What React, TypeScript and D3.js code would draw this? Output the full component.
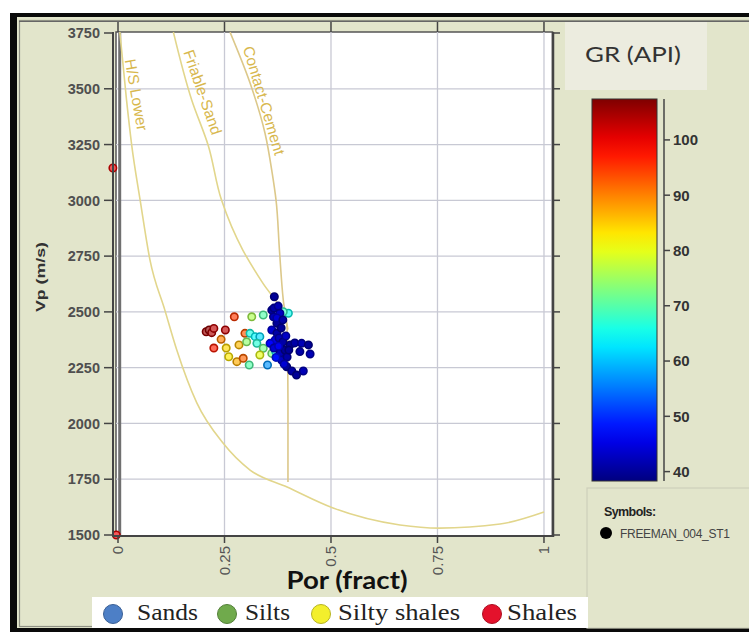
import React from "react";
import * as d3 from "d3";

// axis ticks
const porTicks = [0, 0.25, 0.5, 0.75, 1];
const porTickLabels = ["0", "0.25", "0.5", "0.75", "1"];
const vpTicks = [1500, 1750, 2000, 2250, 2500, 2750, 3000, 3250, 3500, 3750];
const grTicks = [40, 50, 60, 70, 80, 90, 100];

// rock physics templates [por, vp]
const hsLower: [number, number][] = [
  [0.004, 3760], [0.02, 3450], [0.032, 3250], [0.052, 3001], [0.075, 2733],
  [0.11, 2508], [0.138, 2329], [0.185, 2092], [0.246, 1913], [0.31, 1791],
  [0.397, 1715], [0.505, 1621], [0.662, 1545], [0.754, 1531], [0.897, 1549],
  [1.0, 1603],
];
const friableSand: [number, number][] = [
  [0.13, 3754], [0.173, 3450], [0.212, 3245], [0.243, 3001], [0.293, 2777],
  [0.34, 2629], [0.39, 2490], [0.399, 2420],
];
const contactCement: [number, number][] = [
  [0.263, 3754], [0.31, 3526], [0.345, 3302], [0.362, 3122], [0.371, 3001],
  [0.379, 2777], [0.388, 2553], [0.397, 2419], [0.399, 2105], [0.399, 1738],
];
const curveNames = ["H/S Lower", "Friable-Sand", "Contact-Cement"];
const curveLabelAt: [number, number][] = [[0.016, 3629], [0.153, 3665], [0.293, 3683]];

// well samples [por, vp, GR]
const samples: [number, number, number][] = [
  [0.207, 2411, 105], [0.214, 2419, 106], [0.22, 2407, 104], [0.225, 2426, 103],
  [0.252, 2419, 103], [0.273, 2478, 95], [0.242, 2377, 90], [0.225, 2338, 97],
  [0.254, 2338, 84], [0.26, 2299, 83], [0.279, 2277, 87], [0.294, 2292, 92],
  [0.308, 2262, 70], [0.284, 2352, 86], [0.298, 2404, 93], [0.302, 2366, 74],
  [0.31, 2404, 66], [0.322, 2389, 64], [0.333, 2389, 62], [0.326, 2359, 67],
  [0.341, 2337, 72], [0.333, 2307, 80], [0.351, 2262, 57], [0.361, 2314, 73],
  [0.37, 2322, 65], [0.314, 2478, 76], [0.341, 2486, 70], [0.4, 2494, 65],
  [0.388, 2501, 68],
  [0.367, 2568, 40], [0.361, 2508, 41], [0.365, 2478, 42], [0.373, 2449, 40],
  [0.38, 2494, 43], [0.366, 2517, 41], [0.376, 2526, 42], [0.361, 2419, 44],
  [0.373, 2405, 41], [0.383, 2428, 40], [0.369, 2374, 45], [0.378, 2383, 42],
  [0.387, 2365, 41], [0.357, 2359, 47], [0.366, 2338, 44], [0.38, 2314, 42],
  [0.392, 2329, 40], [0.384, 2284, 43], [0.397, 2298, 41], [0.404, 2352, 40],
  [0.415, 2361, 41], [0.431, 2359, 42], [0.447, 2352, 40], [0.427, 2322, 41],
  [0.451, 2311, 42], [0.396, 2254, 40], [0.408, 2235, 41], [0.419, 2217, 40],
  [0.435, 2235, 42], [0.373, 2473, 44], [0.387, 2464, 41], [0.394, 2392, 43],
  [0.401, 2329, 40], [0.39, 2266, 44], [0.377, 2346, 46], [0.371, 2296, 48],
  [-0.012, 3145, 100], [-0.004, 1500, 100],
];

const legendNames = ["Sands", "Silts", "Silty shales", "Shales"];
const legendColors = ["#4d7fc6", "#70aa4c", "#f3ef2c", "#e4122c"];

const jetStops = [0, 0.125, 0.375, 0.625, 0.875, 1];
const jetColors = ["#00007f", "#0000ff", "#00ffff", "#ffff00", "#ff0000", "#7f0000"];
const grRange = [38.3, 107.4];

const BG = "#e2e5cb";
const CURVE = "#e2d68c";
const LABEL = "#d8b84e";
const SANS = "'Liberation Sans', Arial, sans-serif";

export default function App() {
  const x = d3.scaleLinear().domain([0, 1.02]).range([118, 552.5]);
  const y = d3.scaleLinear().domain([1500, 3750]).range([535, 33]);
  const color = d3
    .scaleLinear<string>()
    .domain(jetStops.map((t) => grRange[0] + t * (grRange[1] - grRange[0])))
    .range(jetColors)
    .clamp(true);
  const cb = d3.scaleLinear().domain(grRange).range([481, 99]);

  const monoY = d3
    .line<[number, number]>()
    .x((d) => x(d[0]))
    .y((d) => y(d[1]))
    .curve(d3.curveMonotoneY);
  const monoX = d3
    .line<[number, number]>()
    .x((d) => x(d[0]))
    .y((d) => y(d[1]))
    .curve(d3.curveMonotoneX);

  const gradStops = d3.range(0, 1.0001, 0.05);
  const angles = [80, 71, 73.5];
  const legendCx = [113, 227, 321, 492];
  const legendTx = [137, 245, 338, 507];
  const legendLen = [61, 45, 122, 70];

  return (
    <svg width={749} height={634} style={{ position: "absolute", left: 0, top: 0 }}>
      <defs>
        <linearGradient id="jet" x1="0" y1="1" x2="0" y2="0">
          {gradStops.map((t) => (
            <stop key={t} offset={t} stopColor={color(grRange[0] + t * (grRange[1] - grRange[0]))} />
          ))}
        </linearGradient>
        <clipPath id="plot">
          <rect x={117} y={32} width={436} height={504} />
        </clipPath>
      </defs>
      <rect x={0} y={0} width={749} height={634} fill="#fff" />
      <rect x={10} y={13} width={745} height={619} fill="#0a0a0a" />
      <rect x={17} y={17} width={740} height={611} fill={BG} />
      <rect x={19.5} y={20.5} width={740} height={606} fill={BG} stroke="#8f9184" strokeWidth={1.2} />

      {/* colour bar title box */}
      <rect x={565} y={22} width={142} height={68} fill="#ececdf" />
      <text x={633} y={62} textAnchor="middle" fontFamily="Lato, 'Open Sans', sans-serif" fontSize={22} fill="#333" textLength={96} lengthAdjust="spacingAndGlyphs">GR (API)</text>

      {/* plot area */}
      <rect x={116} y={32} width={436.5} height={504} fill="#fff" stroke="#555" strokeWidth={1.5} />
      {porTicks.slice(1).map((t) => (
        <line key={"gx" + t} x1={x(t)} x2={x(t)} y1={32} y2={535} stroke="#c8c9d4" strokeWidth={1.3} />
      ))}
      {vpTicks.slice(1, -1).map((t) => (
        <line key={"gy" + t} x1={116} x2={552} y1={y(t)} y2={y(t)} stroke="#c8c9d4" strokeWidth={1.3} />
      ))}
      <line x1={x(0.004)} x2={x(0.004)} y1={33} y2={535} stroke="#707070" strokeWidth={3} />

      <g clipPath="url(#plot)" fill="none" stroke={CURVE} strokeWidth={1.6}>
        <path d={monoX(hsLower) || ""} />
        <path d={monoY(friableSand) || ""} />
        <path d={monoY(contactCement) || ""} stroke="#dcc88a" />
      </g>
      {curveNames.map((n, i) => (
        <text key={n} transform={`translate(${x(curveLabelAt[i][0])},${y(curveLabelAt[i][1])}) rotate(${angles[i]})`} fontFamily={SANS} fontSize={15.5} fill={LABEL}>{n}</text>
      ))}

      {samples.map((s, i) => {
        const c = color(s[2]);
        const ring = d3.interpolateRgb(c, "#ffffff")(s[2] < 50 ? 0 : 0.35);
        return (
          <circle key={i} cx={x(s[0])} cy={y(s[1])} r={3.7} fill={ring} stroke={d3.color(c)!.darker(0.9).formatHex()} strokeWidth={1.6} />
        );
      })}

      {/* axes */}
      <line x1={113} x2={113} y1={32} y2={537} stroke="#444" strokeWidth={2} />
      <line x1={113} x2={553} y1={536} y2={536} stroke="#444" strokeWidth={2} />
      <line x1={553} x2={553} y1={32} y2={537} stroke="#444" strokeWidth={2.5} />
      <line x1={19} x2={749} y1={21.5} y2={21.5} stroke="#666" strokeWidth={1.2} />
      {vpTicks.map((t) => (
        <g key={"ty" + t}>
          <line x1={104} x2={113} y1={y(t)} y2={y(t)} stroke="#444" strokeWidth={1.5} />
          <line x1={553} x2={560} y1={y(t)} y2={y(t)} stroke="#444" strokeWidth={1.5} />
          <text x={100} y={y(t)} dy="0.36em" textAnchor="end" fontFamily={SANS} fontWeight="bold" fontSize={14.5} fill="#4f4f4f">{t}</text>
        </g>
      ))}
      {porTicks.map((t, i) => (
        <g key={"tx" + t}>
          <line x1={x(t)} x2={x(t)} y1={536} y2={543} stroke="#444" strokeWidth={1.5} />
          <line x1={x(t)} x2={x(t)} y1={22} y2={32} stroke="#444" strokeWidth={1.5} />
          <text transform={`translate(${x(t)},546) rotate(-90)`} dy="0.36em" textAnchor="end" fontFamily={SANS} fontSize={15} fill="#555">{porTickLabels[i]}</text>
        </g>
      ))}
      <text transform="translate(45,277) rotate(-90)" textAnchor="middle" fontFamily={SANS} fontWeight="bold" fontSize={13} fill="#333" textLength={70} lengthAdjust="spacingAndGlyphs">Vp  (m/s)</text>
      <text x={347} y={589} textAnchor="middle" fontFamily="Lato, 'Open Sans', sans-serif" fontWeight="bold" fontSize={24} fill="#111" textLength={121} lengthAdjust="spacingAndGlyphs">Por (fract)</text>

      {/* colour bar */}
      <rect x={592} y={99} width={65} height={382} fill="url(#jet)" stroke="#333" strokeWidth={1} />
      <line x1={664} x2={664} y1={99} y2={481} stroke="#444" strokeWidth={1.5} />
      {grTicks.map((t) => (
        <g key={"gr" + t}>
          <line x1={664} x2={670} y1={cb(t)} y2={cb(t)} stroke="#444" strokeWidth={1.5} />
          <text x={673} y={cb(t)} dy="0.36em" fontFamily={SANS} fontWeight="bold" fontSize={15} fill="#333">{t}</text>
        </g>
      ))}

      {/* symbols panel */}
      <rect x={587} y={488} width={170} height={140} fill={BG} stroke="#cdcfbb" strokeWidth={1.2} />
      <text x={604} y={516} fontFamily={SANS} fontWeight="bold" fontSize={12.5} fill="#222" letterSpacing={-0.6}>Symbols:</text>
      <circle cx={606} cy={533} r={6} fill="#000" />
      <text x={620} y={538} fontFamily={SANS} fontSize={12} fill="#444" letterSpacing={-0.3}>FREEMAN_004_ST1</text>

      {/* facies legend */}
      <rect x={92} y={597} width={496} height={31} fill="#fff" />
      {legendNames.map((n, i) => (
        <g key={n}>
          <circle cx={legendCx[i]} cy={614} r={9.5} fill={legendColors[i]} stroke={d3.color(legendColors[i])!.darker(0.8).formatHex()} strokeWidth={1} />
          <text x={legendTx[i]} y={620} fontFamily="'Liberation Serif', 'Times New Roman', serif" fontSize={24} fill="#222" textLength={legendLen[i]} lengthAdjust="spacingAndGlyphs">{n}</text>
        </g>
      ))}
    </svg>
  );
}
